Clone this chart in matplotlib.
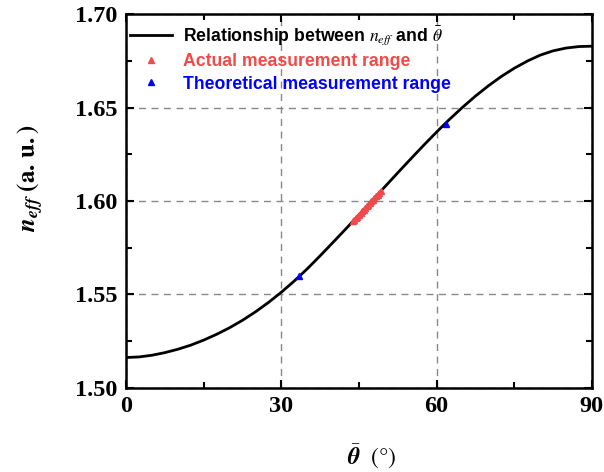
import matplotlib
matplotlib.use('Agg')
import matplotlib.pyplot as plt
from matplotlib.ticker import MultipleLocator, FormatStrFormatter

# ── Data ────────────────────────────────────────────────────────────────────
theta_curve = [0, 2.5, 5, 7.5, 10, 12.5, 15, 17.5, 20, 22.5, 25, 27.5, 30, 32.5, 35,
               37.5, 40, 42.5, 45, 47.5, 50, 52.5, 55, 57.5, 60, 62.5, 65, 67.5, 70,
               72.5, 75, 77.5, 80, 82.5, 85, 87.5, 90]
n_curve = [1.5163, 1.5166, 1.5175, 1.5189, 1.5207, 1.5229, 1.5256, 1.5287, 1.5322,
           1.5362, 1.5407, 1.5457, 1.5512, 1.5572, 1.5637, 1.5707, 1.5779, 1.5852,
           1.5926, 1.6001, 1.6076, 1.6151, 1.6225, 1.6298, 1.6369, 1.6437, 1.6501,
           1.6561, 1.6616, 1.6666, 1.6710, 1.6748, 1.6780, 1.6803, 1.6818, 1.6826,
           1.6828]

theta_actual = [43.8, 44.1, 44.4, 44.7, 45.0, 45.3, 45.6, 45.9, 46.2, 46.5, 46.8,
                47.1, 47.4, 47.7, 48.0, 48.3, 48.6, 48.9, 49.2]
n_actual = [1.5891, 1.5900, 1.5909, 1.5917, 1.5926, 1.5935, 1.5944, 1.5953, 1.5962,
            1.5971, 1.5980, 1.5989, 1.5998, 1.6007, 1.6016, 1.6025, 1.6034, 1.6043,
            1.6052]

theta_theory = [33.5, 61.8]
n_theory = [1.5600, 1.6410]

RED = '#f04a4a'
BLUE = '#0000ff'

plt.rcParams['mathtext.fontset'] = 'stix'

fig = plt.figure(figsize=(6.04, 4.72), dpi=100)
ax = fig.add_axes([0.2086, 0.178, 0.7714, 0.7923])

ax.plot(theta_curve, n_curve, color='black', lw=2.0, zorder=3,
        solid_joinstyle='round',
        label=r'Relationship between $n_{eff}$ and $\bar{\theta}$')
ax.plot(theta_actual, n_actual, ls='none', marker='^', ms=5, color=RED, zorder=4,
        label='Actual measurement range')
ax.plot(theta_theory, n_theory, ls='none', marker='^', ms=5, color=BLUE, zorder=4,
        label='Theoretical measurement range')

ax.set_xlim(0, 90)
ax.set_ylim(1.50, 1.70)
ax.xaxis.set_major_locator(MultipleLocator(30))
ax.xaxis.set_minor_locator(MultipleLocator(15))
ax.yaxis.set_major_locator(MultipleLocator(0.05))
ax.yaxis.set_minor_locator(MultipleLocator(0.025))
ax.yaxis.set_major_formatter(FormatStrFormatter('%.2f'))

ax.grid(True, which='major', ls=(0, (5, 4)), color='#888888', lw=1.0)
ax.tick_params(which='both', direction='in', top=True, right=True, width=1.5)
ax.tick_params(which='major', length=6, pad=6)
ax.tick_params(which='minor', length=4)
for s in ax.spines.values():
    s.set_linewidth(1.8)

for lab in ax.get_xticklabels() + ax.get_yticklabels():
    lab.set_fontfamily('Liberation Serif')
    lab.set_fontweight('bold')
    lab.set_fontsize(17.5)

ax.set_ylabel(r'$\mathbfit{n}_{\mathbfit{eff}}\ \mathbf{(a.\,u.)}$', fontsize=18, va='center')
ax.yaxis.set_label_coords(-0.205, 0.56)
ax.set_xlabel(r'$\bar{\mathbfit{\theta}}\ \ \mathrm{(°)}$', fontsize=17, va='center')
ax.xaxis.set_label_coords(0.527, -0.184)

leg = ax.legend(loc='upper left', bbox_to_anchor=(0.008, 0.972), frameon=False,
                prop={'family': 'Liberation Sans', 'weight': 'bold', 'size': 12.7},
                borderpad=0, borderaxespad=0, handlelength=2.4,
                labelspacing=0.32, handletextpad=0.6, markerscale=0.9)
for txt, col in zip(leg.get_texts(), ['black', RED, BLUE]):
    txt.set_color(col)

fig.savefig('out.png', dpi=100)
